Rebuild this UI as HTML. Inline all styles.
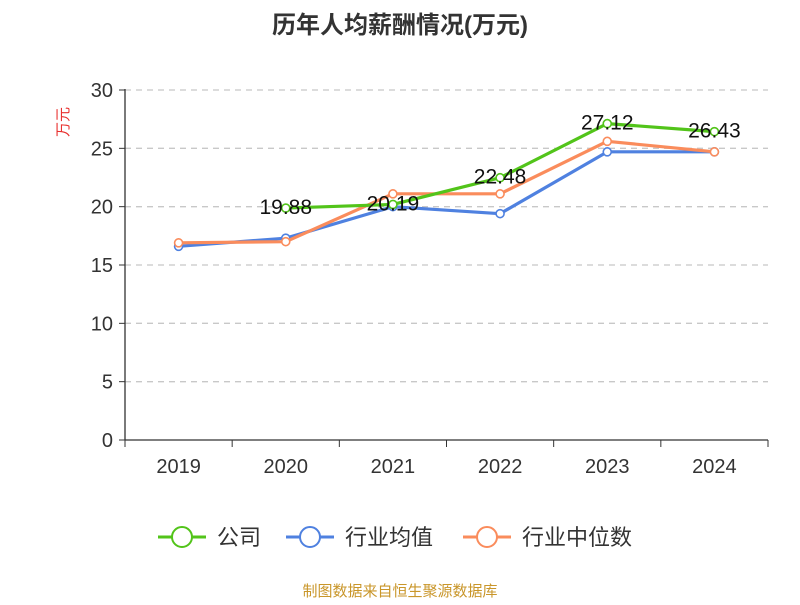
<!DOCTYPE html>
<html><head><meta charset="utf-8"><style>
body{margin:0;background:#fff;}
svg text{font-family:"Liberation Sans","Noto Sans CJK SC",sans-serif;}
</style></head><body>
<svg id="c" width="800" height="600" xmlns="http://www.w3.org/2000/svg">
<text x="400" y="33" text-anchor="middle" font-size="24" font-weight="bold" fill="#333">历年人均薪酬情况(万元)</text>
<text transform="translate(68,122) rotate(-90)" text-anchor="middle" font-size="15" fill="#e8312f">万元</text>
<g id="grid"></g><g id="axes"></g><g id="series"></g><g id="legend"></g>
<text x="400" y="596" text-anchor="middle" font-size="15" fill="#c9962a">制图数据来自恒生聚源数据库</text>
</svg>
<script>
const categories=["2019","2020","2021","2022","2023","2024"];
const yTicks=[0,5,10,15,20,25,30];
const company=[null,19.88,20.19,22.48,27.12,26.43];
const industryAvg=[16.6,17.3,20.0,19.4,24.7,24.7];
const industryMedian=[16.9,17.0,21.1,21.1,25.6,24.7];
const companyLabels=["","19.88","20.19","22.48","27.12","26.43"];
const NS="http://www.w3.org/2000/svg";
const L=125,R=768,T=90,B=440;
const bw=(R-L)/categories.length;
const x=i=>L+bw*(i+0.5);
const y=v=>B-(v/30)*(B-T);
function mk(tag,attrs,parent){const e=document.createElementNS(NS,tag);for(const k in attrs)e.setAttribute(k,attrs[k]);parent.appendChild(e);return e;}
const grid=document.getElementById('grid'),axes=document.getElementById('axes'),ser=document.getElementById('series'),leg=document.getElementById('legend');
yTicks.forEach(t=>{
 if(t>0){const g=mk('line',{x1:L,x2:R,y1:y(t),y2:y(t),stroke:'#c8c8c8','stroke-dasharray':'6,5','stroke-width':1.3},grid);
 
 }
 const tk=mk('line',{x1:L-6,x2:L,y1:y(t),y2:y(t),stroke:'#333'},axes);
 
 
 const tx=mk('text',{x:L-12,y:y(t)+7,'text-anchor':'end','font-size':20,fill:'#333'},axes);tx.textContent=t;
 
 
});
const ya=mk('line',{x1:L,x2:L,y1:T-1,y2:B,stroke:'#333','stroke-width':1.3},axes);


const xa=mk('line',{x1:L,x2:R,y1:B,y2:B,stroke:'#333','stroke-width':1.3},axes);


for(let i=0;i<=categories.length;i++){const t=mk('line',{x1:L+bw*i,x2:L+bw*i,y1:B,y2:B+7,stroke:'#333'},axes);
 
 }
categories.forEach((c,i)=>{const t=mk('text',{x:x(i),y:B+33,'text-anchor':'middle','font-size':20,fill:'#333'},axes);t.textContent=c;
 
 });
function drawSeries(data,color,name){
 const g=mk('g',{},ser);
 
 
 let d='';data.forEach((v,i)=>{if(v==null)return;d+=(d?'L':'M')+x(i)+','+y(v);});
 const p=mk('path',{d:d,fill:'none',stroke:color,'stroke-width':3.2,'stroke-linejoin':'round'},g);
 
 
 data.forEach((v,i)=>{if(v==null)return;const c=mk('circle',{cx:x(i),cy:y(v),r:4,fill:'#fff',stroke:color,'stroke-width':1.6},g);
 
 });
}
drawSeries(industryAvg,'#4f81e0','industry-avg');
drawSeries(industryMedian,'#fa8c5c','industry-median');
drawSeries(company,'#52c41a','company');
company.forEach((v,i)=>{if(v==null)return;const t=mk('text',{x:x(i),y:y(v)+6,'text-anchor':'middle','font-size':21,fill:'#111'},ser);t.textContent=companyLabels[i];
 
 });
[['#52c41a','公司',182],['#4f81e0','行业均值',310],['#fa8c5c','行业中位数',487]].forEach(([c,lab,cx],k)=>{
 const g=mk('g',{},leg);
 
 
 mk('line',{x1:cx-24,x2:cx+24,y1:537,y2:537,stroke:c,'stroke-width':3},g);
 mk('circle',{cx:cx,cy:537,r:10,fill:'#fff',stroke:c,'stroke-width':2},g);
 const t=mk('text',{x:cx+35,y:545,'font-size':22,fill:'#333'},g);t.textContent=lab;
});
</script>
</body></html>
